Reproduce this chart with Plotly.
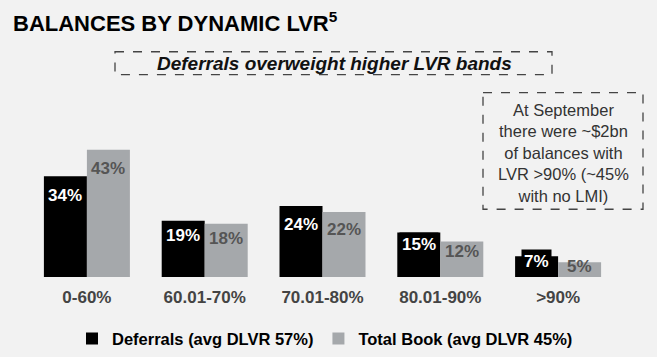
import plotly.graph_objects as go

categories = ["0-60%", "60.01-70%", "70.01-80%", "80.01-90%", ">90%"]
deferrals = [34, 19, 24, 15, 7]
total_book = [43, 18, 22, 12, 5]
series_names = ["Deferrals (avg DLVR 57%)", "Total Book (avg DLVR 45%)"]
title_text = "BALANCES BY DYNAMIC LVR<sup>5</sup>"
subtitle_text = "Deferrals overweight higher LVR bands"
note_text = "At September<br>there were ~$2bn<br>of balances with<br>LVR >90% (~45%<br>with no LMI)"

BG = "#f2f2f2"
BLACK = "#000000"
GREY = "#a5a8ab"
FONT = "Liberation Sans, Arial, sans-serif"

W, H = 657, 357
L, R, T, B = 28, 40, 128.5, 80
PW, PH = W - L - R, H - T - B

def px(x):
    return (x - L) / PW
def py(y):
    return (H - B - y) / PH

fig = go.Figure()
fig.add_trace(go.Bar(x=categories, y=deferrals, name=series_names[0],
                     marker=dict(color=BLACK, line=dict(width=0))))
fig.add_trace(go.Bar(x=categories, y=total_book, name=series_names[1],
                     marker=dict(color=GREY, line=dict(width=0))))

annotations = []
def label_y(v):
    return max(v - 6.4, 0.73 * v)

for cat, d, t in zip(categories, deferrals, total_book):
    annotations.append(dict(x=cat, y=label_y(d), xref="x", yref="y", xshift=-21.5,
                            text=f"<b>{d}%</b>", showarrow=False,
                            font=dict(family=FONT, size=17, color="white"),
                            bgcolor=BLACK, borderpad=2,
                            xanchor="center", yanchor="middle"))
    annotations.append(dict(x=cat, y=label_y(t), xref="x", yref="y", xshift=21.5,
                            text=f"<b>{t}%</b>", showarrow=False,
                            font=dict(family=FONT, size=17, color="#555555"),
                            xanchor="center", yanchor="middle"))

# Title
annotations.append(dict(x=px(11), y=py(21), xref="paper", yref="paper",
                        text=title_text, showarrow=False, xanchor="left", yanchor="middle",
                        font=dict(family=FONT, size=22, color="#000000", weight="bold")))
# Subtitle
annotations.append(dict(x=px(334), y=py(62.5), xref="paper", yref="paper",
                        text=f"<b><i>{subtitle_text}</i></b>", showarrow=False,
                        xanchor="center", yanchor="middle",
                        font=dict(family=FONT, size=19, color="#111111")))
# Note
annotations.append(dict(x=px(563), y=py(153), xref="paper", yref="paper",
                        text=note_text, showarrow=False, xanchor="center", yanchor="middle",
                        align="center",
                        font=dict(family=FONT, size=16.5, color="#333333")))

shapes = [
    dict(type="rect", xref="paper", yref="paper", x0=px(115), x1=px(552), y0=py(51), y1=py(74),
         line=dict(color="#444444", width=1.3, dash="dash"), fillcolor="rgba(0,0,0,0)"),
    dict(type="rect", xref="paper", yref="paper", x0=px(483), x1=px(643), y0=py(92), y1=py(209),
         line=dict(color="#444444", width=1.3, dash="dash"), fillcolor="rgba(0,0,0,0)"),
]

fig.update_layout(
    width=W, height=H,
    margin=dict(l=L, r=R, t=T, b=B, pad=0, autoexpand=False),
    paper_bgcolor=BG, plot_bgcolor=BG,
    barmode="group", bargap=0.27, bargroupgap=0,
    showlegend=True,
    legend=dict(orientation="h", x=px(72), xanchor="left",
                y=py(339), yanchor="middle",
                font=dict(family=FONT, size=16.5, color="#000000", weight="bold"),
                bgcolor="rgba(0,0,0,0)", itemclick=False, traceorder="normal"),
    xaxis=dict(showline=False, showgrid=False, zeroline=False, ticks="",
               ticklabelstandoff=8,
               tickfont=dict(family=FONT, size=17, color="#444444", weight="bold"),
               fixedrange=True),
    yaxis=dict(range=[0, 50], visible=False, showgrid=False, zeroline=False, fixedrange=True),
    annotations=annotations,
    shapes=shapes,
)

fig.write_html("out.html", config={"displayModeBar": False},
               post_script="document.body.style.margin='0';document.body.style.overflow='hidden';")
